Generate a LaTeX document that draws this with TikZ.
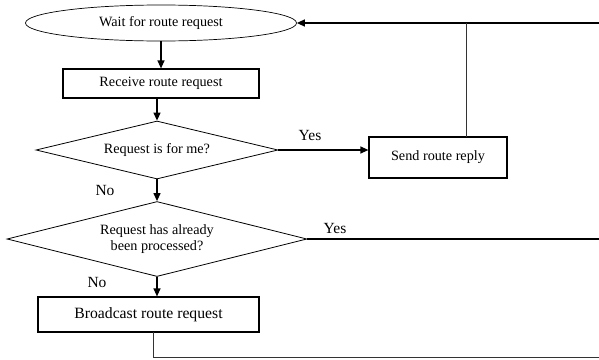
\documentclass[tikz,border=0pt]{standalone}
\usepackage{fontspec}
\setmainfont{Liberation Serif}
\usetikzlibrary{shapes.geometric,arrows.meta}

\begin{document}
\begin{tikzpicture}[
  x=1pt, y=-1pt,
  every node/.style={font=\fontsize{14.2}{16.5}\selectfont, inner sep=1pt},
  startstop/.style={draw, ellipse, line width=0.7pt, minimum width=271pt, minimum height=36pt},
  process/.style={draw, rectangle, line width=1.2pt},
  decision/.style={draw, diamond, line width=0.8pt, align=center, inner sep=0pt},
  answer/.style={font=\fontsize{15.5}{18}\selectfont},
  flow/.style={line width=1.2pt, -{Triangle[length=8pt,width=7pt]}},
  back/.style={line width=0.9pt, black!80}
]
\useasboundingbox (0,0) rectangle (599,359);

\node[startstop] (wait) at (161,23) {Wait for route request};
\node[process, minimum width=196pt, minimum height=29pt] (receive) at (161,83.5) {Receive route request};
\node[decision, aspect=4.17, minimum width=242pt, minimum height=58pt] (forme) at (157,150) {Request is for me?};
\node[process, minimum width=138pt, minimum height=41pt] (reply) at (438,157.5) {Send route reply};
\node[decision, aspect=4, minimum width=300pt, minimum height=75pt] (processed) at (157,239)
  {Request has already\\been processed?};
\node[process, minimum width=221pt, minimum height=35pt, font=\fontsize{15.7}{18}\selectfont]
  (broadcast) at (148.5,314.5) {Broadcast route request};

\coordinate (topright) at (599,23);
\coordinate (midright) at (599,239);
\coordinate (lowright) at (599,357);
\coordinate (replyup) at (466,137);
\coordinate (bcdown) at (153,332);

% main flow
\draw[flow] (wait) -- (receive);
\draw[flow] (receive.south -| forme.north) -- (forme);
\draw[flow] (forme.east) -- (forme.east -| reply.west);
\draw[flow] (forme) -- (processed);
\draw[flow] (processed) -- (processed.south |- broadcast.north);

% back to waiting
\draw[flow] (topright) -- (wait);
\draw[back] (replyup) -- (replyup |- topright);
\draw[line width=1.2pt] (processed.east) -- (midright);
\draw[back] (bcdown) -- (bcdown |- lowright) -- (lowright);

% answers
\node[answer] (yes1) at (310,135) {Yes};
\node[answer] (no1) at (105,190) {No};
\node[answer] (yes2) at (335,228) {Yes};
\node[answer] (no2) at (97,282) {No};
\end{tikzpicture}
\end{document}
